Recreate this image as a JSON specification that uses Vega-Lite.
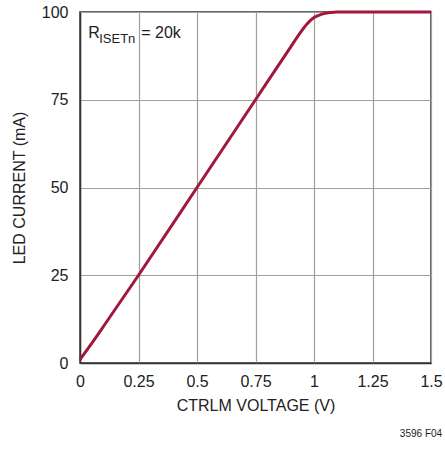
{
  "$schema": "https://vega.github.io/schema/vega-lite/v6.json",
  "width": 351,
  "height": 351,
  "autosize": "none",
  "padding": {"left": 80, "top": 12, "right": 14, "bottom": 86},
  "background": "white",
  "config": {
    "font": "Liberation Sans",
    "view": {"stroke": "#333", "strokeWidth": 1.5},
    "axis": {
      "labelFont": "Liberation Sans",
      "titleFont": "Liberation Sans",
      "labelFontSize": 16,
      "titleFontSize": 16,
      "labelColor": "#222",
      "titleColor": "#222",
      "titleFontWeight": "normal",
      "gridColor": "#a0a0a0",
      "gridOpacity": 1,
      "gridWidth": 1.2,
      "domainColor": "#333",
      "domainWidth": 1.5,
      "ticks": false
    }
  },
  "title": {
    "text": "3596 F04",
    "orient": "bottom",
    "anchor": "end",
    "fontSize": 10,
    "fontWeight": "normal",
    "font": "Liberation Sans",
    "color": "#222",
    "offset": 16
  },
  "layer": [
    {
      "data": {
        "values": [
          {"v": 0.0, "i": 1.0},
          {"v": 0.05, "i": 5.6},
          {"v": 0.1, "i": 10.4},
          {"v": 0.25, "i": 25.0},
          {"v": 0.5, "i": 50.0},
          {"v": 0.75, "i": 75.0},
          {"v": 0.9, "i": 90.0},
          {"v": 0.94, "i": 94.0},
          {"v": 0.97, "i": 96.6},
          {"v": 1.0, "i": 98.4},
          {"v": 1.03, "i": 99.3},
          {"v": 1.07, "i": 99.85},
          {"v": 1.1, "i": 100.0},
          {"v": 1.2, "i": 100.0},
          {"v": 1.5, "i": 100.0}
        ]
      },
      "mark": {"type": "line", "color": "#a3173d", "strokeWidth": 3, "interpolate": "monotone", "clip": false},
      "encoding": {
        "x": {
          "field": "v", "type": "quantitative",
          "scale": {"domain": [0, 1.5], "nice": false},
          "axis": {"values": [0, 0.25, 0.5, 0.75, 1, 1.25, 1.5], "labelExpr": "'' + datum.value", "title": "CTRLM VOLTAGE (V)", "labelPadding": 10, "titlePadding": 8, "labelFlush": false}
        },
        "y": {
          "field": "i", "type": "quantitative",
          "scale": {"domain": [0, 100], "nice": false},
          "axis": {"values": [0, 25, 50, 75, 100], "title": "LED CURRENT (mA)", "labelPadding": 12, "titlePadding": 14}
        }
      }
    },
    {
      "data": {"values": [{"v": 0.035, "i": 92.5, "t": "R"}]},
      "mark": {"type": "text", "align": "left", "baseline": "alphabetic", "fontSize": 16, "color": "#222"},
      "encoding": {"x": {"field": "v", "type": "quantitative"}, "y": {"field": "i", "type": "quantitative"}, "text": {"field": "t"}}
    },
    {
      "data": {"values": [{"v": 0.035, "i": 92.5, "t": "ISETn"}]},
      "mark": {"type": "text", "align": "left", "baseline": "alphabetic", "fontSize": 13, "dx": 11, "dy": 5, "color": "#222"},
      "encoding": {"x": {"field": "v", "type": "quantitative"}, "y": {"field": "i", "type": "quantitative"}, "text": {"field": "t"}}
    },
    {
      "data": {"values": [{"v": 0.035, "i": 92.5, "t": "= 20k"}]},
      "mark": {"type": "text", "align": "left", "baseline": "alphabetic", "fontSize": 16, "dx": 53, "color": "#222"},
      "encoding": {"x": {"field": "v", "type": "quantitative"}, "y": {"field": "i", "type": "quantitative"}, "text": {"field": "t"}}
    }
  ]
}
